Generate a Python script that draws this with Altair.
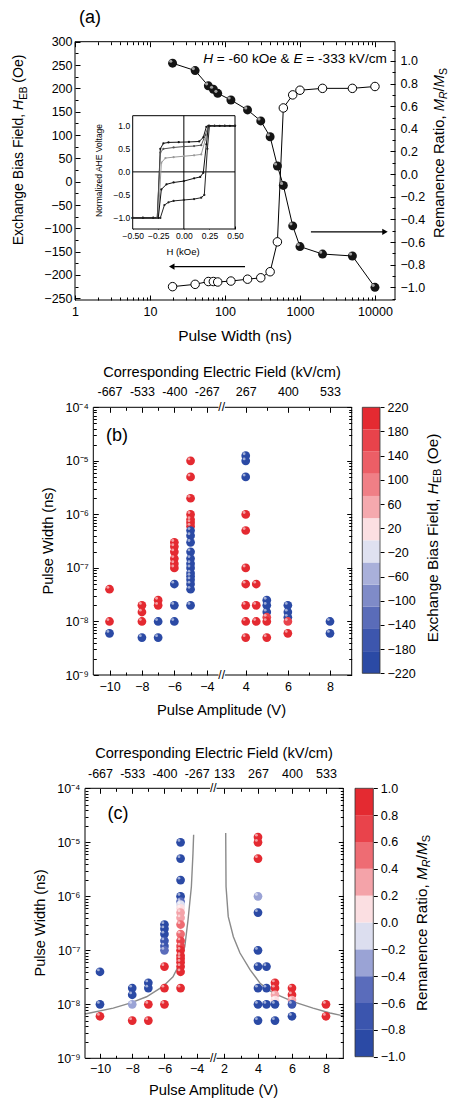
import altair as alt
import pandas as pd
import numpy as np

FONT = "Liberation Sans"
W, H = 449, 1101

# ---------------- panel (a) data ----------------
pulse_ns = [20, 40, 60, 70, 80, 120, 200, 300, 400, 500, 600, 800, 1000, 2000, 5000, 10000]
heb_open_oe = [-225, -220, -214, -214, -215, -213, -209, -206, -193, -129, 158, 186, 196, 200, 200, 204]
mr_filled = [0.98, 0.915, 0.78, 0.75, 0.714, 0.655, 0.567, 0.47, 0.33, 0.072, -0.10, -0.457,
             -0.64, -0.706, -0.723, -1.0]

# inset hysteresis loops: field H (kOe) and normalized AHE voltage
loop_names = ["A", "B", "C", "D", "E"]
loop_h = {
    "A": [-0.5, -0.4, -0.3, -0.26, -0.23, -0.2, -0.15, -0.05, 0.05, 0.15, 0.19, 0.22, 0.25, 0.35, 0.45, 0.5],
    "B": [-0.5, -0.4, -0.3, -0.26, -0.23, -0.2, -0.1, 0.0, 0.1, 0.17, 0.21, 0.24, 0.3, 0.4, 0.5],
    "C": [-0.5, -0.4, -0.3, -0.25, -0.22, -0.18, -0.1, 0.0, 0.1, 0.17, 0.21, 0.24, 0.3, 0.4, 0.5],
    "D": [-0.5, -0.4, -0.3, -0.25, -0.22, -0.17, -0.1, 0.0, 0.1, 0.16, 0.19, 0.22, 0.24, 0.3, 0.4, 0.5],
    "E": [-0.5, -0.4, -0.3, -0.23, -0.19, -0.15, -0.1, 0.0, 0.1, 0.17, 0.2, 0.23, 0.25, 0.3, 0.4, 0.5],
}
loop_v = {
    "A": [-1, -1, -1, -1, 0.5, 0.62, 0.64, 0.645, 0.65, 0.66, 0.75, 0.98, 1.0, 1.0, 1.0, 1.0],
    "B": [-1, -1, -1, -1, 0.42, 0.5, 0.53, 0.55, 0.56, 0.58, 0.8, 1.0, 1.0, 1.0, 1.0],
    "C": [-1, -1, -1, -1, 0.2, 0.3, 0.32, 0.34, 0.36, 0.38, 0.7, 1.0, 1.0, 1.0, 1.0],
    "D": [-1, -1, -1, -1, -0.38, -0.27, -0.23, -0.2, -0.14, -0.11, -0.02, 0.6, 1.0, 1.0, 1.0, 1.0],
    "E": [-1, -1, -1, -1, -0.72, -0.66, -0.63, -0.61, -0.59, -0.56, -0.5, 0.5, 1.0, 1.0, 1.0, 1.0],
}

# ---------------- panels (b), (c) data ----------------
amp_v = ([-10] * 3 + [-8] * 4 + [-7] * 4 + [-6] * 9 + [-5] * 20 + [4] * 10 + [4.5] * 3
         + [5] * 6 + [6] * 5 + [8] * 2)
width_s = [4e-8, 1e-8, 6e-9,
           2e-8, 1.5e-8, 1e-8, 5e-9,
           2.5e-8, 2e-8, 1e-8, 5e-9,
           3e-7, 2.5e-7, 2e-7, 1.5e-7, 1.2e-7, 1e-7, 5e-8, 2e-8, 1e-8,
           1e-5, 5e-6, 2e-6, 1e-6, 8e-7, 7e-7, 6e-7, 5e-7, 4e-7, 3e-7, 2e-7, 1.5e-7, 1.2e-7, 1e-7,
           8e-8, 7e-8, 6e-8, 5e-8, 4e-8, 2e-8,
           1.25e-5, 1e-5, 5e-6, 1e-6, 5e-7, 1e-7, 5e-8, 2e-8, 1e-8, 5e-9,
           5e-8, 2e-8, 1e-8,
           2.5e-8, 2e-8, 1.5e-8, 1.2e-8, 1e-8, 5e-9,
           2e-8, 1.5e-8, 1.2e-8, 1e-8, 6e-9,
           1e-8, 6e-9]
heb_b = [200, 200, -200,
         200, 200, 200, -200,
         200, 200, -200, -200,
         200, 200, 200, 200, 200, 200, -200, -200, -200,
         200, 200, 200, 200, 200, 200, 200, -200, -200, -200, -200, -200, -200, -200,
         -200, -200, -200, -200, -200, -200,
         -200, -200, -200, 200, 200, 200, 200, 200, 200, 200,
         200, 200, 200,
         -200, -200, -200, 150, 200, 200,
         -200, -200, -200, 150, 200,
         -200, -200]
mr_c = [-0.95, -0.95, 0.95,
        -0.9, -0.9, -0.35, 0.95,
        -0.9, -0.9, 0.95, 0.95,
        -0.9, -0.9, -0.85, -0.8, -0.75, -0.45, 0.95, 0.95, 0.95,
        -0.95, -0.95, -0.95, -0.9, -0.5, -0.15, 0.1, 0.3, 0.35, 0.45, 0.55, 0.65, 0.75, 0.8,
        0.85, 0.9, 0.9, 0.9, 0.95, 0.95,
        0.95, 0.95, 0.9, -0.25, -0.9, -0.95, -0.95, -0.95, -0.95, -0.95,
        -0.95, -0.95, -0.95,
        0.9, 0.85, 0.35, 0.1, -0.9, -0.95,
        0.9, 0.8, 0.3, -0.7, -0.95,
        0.95, 0.95]

# guide curves in (c)
curve_l_v = [-10.93, -9.18, -8.14, -7.11, -6.09, -5.47, -5.05, -4.74, -4.54, -4.33, -4.23, -4.19]
curve_l_w = [6.6e-9, 8.5e-9, 1.05e-8, 1.38e-8, 2.14e-8, 3.24e-8, 5.75e-8, 1.17e-7, 3.6e-7, 1.5e-6, 6.3e-6, 1.38e-5]
curve_r_v = [2.10, 2.12, 2.25, 2.55, 2.94, 3.53, 4.12, 4.88, 6.06, 7.24, 8.24, 8.82, 9.02]
curve_r_w = [1.48e-5, 1.5e-6, 4.2e-7, 1.78e-7, 8.9e-8, 4.4e-8, 2.45e-8, 1.62e-8, 1.12e-8, 8.5e-9, 6.9e-9, 6.3e-9, 6.2e-9]

# tick labels
xa_major = [1, 10, 100, 1000, 10000]
ya_major = list(range(-250, 301, 50))
yr_major = [round(-1 + 0.2 * i, 1) for i in range(11)]
inset_x_ticks = [-0.5, -0.25, 0.0, 0.25, 0.5]
inset_y_ticks = [-1.0, -0.5, 0.0, 0.5, 1.0]
pw_tick_vals = [1e-9, 1e-8, 1e-7, 1e-6, 1e-5, 1e-4]
pw_tick_labels = ["10\u207b\u2079", "10\u207b\u2078", "10\u207b\u2077", "10\u207b\u2076", "10\u207b\u2075", "10\u207b\u2074"]
xb_major = [-10, -8, -6, -4, 4, 6, 8]
xb_e_labels = ["-667", "-533", "-400", "-267", "267", "400", "533"]
xc_major = [-10, -8, -6, -4, 2, 4, 6, 8]
xc_e_labels = ["-667", "-533", "-400", "-267", "133", "267", "400", "533"]
cb_b_ticks = list(range(220, -221, -40))
cb_c_ticks = [round(1 - 0.2 * i, 1) for i in range(11)]

colors_b = ["#2b4aa5", "#3d56ad", "#5a6cb9", "#7f8bc8", "#a9b0da", "#dfe1f0",
            "#fbdfe2", "#f5a9ae", "#f07f86", "#ec5e66", "#e8434b", "#e42a31"]
colors_c = ["#2b4aa5", "#3b55ae", "#5a6cbb", "#9aa3d5", "#dcdeef",
            "#fbdfe2", "#f4a3a9", "#ee6c73", "#e9434b", "#e42a31"]

# ---------------- helpers ----------------
ARIAL = {' ': 278, '(': 333, ')': 333, ',': 278, '-': 333, '.': 278, '/': 278, '=': 584, '&': 667,
         'A': 667, 'B': 667, 'C': 722, 'D': 722, 'E': 667, 'F': 611, 'G': 778, 'H': 722, 'I': 278,
         'K': 667, 'L': 556, 'M': 833, 'N': 722, 'O': 778, 'P': 667, 'R': 722, 'S': 667, 'T': 611,
         'V': 667, 'W': 944, 'a': 556, 'b': 556, 'c': 500, 'd': 556, 'e': 556, 'f': 278, 'g': 556,
         'h': 556, 'i': 222, 'k': 500, 'l': 222, 'm': 833, 'n': 556, 'o': 556, 'p': 556, 'r': 333,
         's': 500, 't': 278, 'u': 556, 'v': 500, 'x': 500, 'z': 500}


def tw(s, size):
    return sum(ARIAL.get(ch, 556) for ch in s) * size / 1000.0


def rich(pieces, cx, cy, vertical=False):
    total = sum(tw(t, s) for t, s, _, _ in pieces)
    base = max(s for _, s, _, _ in pieces)
    out = []
    pos = cy + total / 2 if vertical else cx - total / 2
    for t, s, style, shift in pieces:
        lead = len(t) - len(t.lstrip(" "))
        adv = tw(" " * lead, s)
        body = t.strip(" ")
        df = pd.DataFrame({"t": [body]})
        if vertical:
            pos -= adv
            mk = alt.Chart(df).mark_text(angle=270, align="left", baseline="alphabetic", font=FONT,
                                         fontSize=s, fontStyle=style, color="black")
            out.append(mk.encode(text="t:N", x=alt.value(cx + 0.36 * base + shift), y=alt.value(pos)))
            pos -= tw(t, s) - adv
        else:
            pos += adv
            mk = alt.Chart(df).mark_text(align="left", baseline="alphabetic", font=FONT,
                                         fontSize=s, fontStyle=style, color="black")
            out.append(mk.encode(text="t:N", x=alt.value(pos), y=alt.value(cy + 0.36 * base + shift)))
            pos += tw(t, s) - adv
    return out


def S(domain, rng, typ="linear"):
    if typ == "log":
        return alt.Scale(type="log", domain=domain, range=rng, nice=False)
    return alt.Scale(type="linear", domain=domain, range=rng, nice=False, zero=False)


def off(orient, p):
    return {"left": -p, "top": -p, "right": p - W, "bottom": p - H}[orient]


def lab_axis(orient, p, values, pad, fmt=None, expr=None, size=12.5, tick=0):
    kw = dict(orient=orient, offset=off(orient, p), values=values, labels=True,
              ticks=tick > 0, tickSize=tick, tickColor="black", domain=False, grid=False,
              labelPadding=pad, labelFont=FONT, labelFontSize=size, labelColor="black",
              labelOverlap=False, labelFlush=False, title=None)
    if fmt:
        kw["format"] = fmt
    if expr:
        kw["labelExpr"] = expr
    return alt.Axis(**kw)


def tick_axis(orient, p, values, size):
    return alt.Axis(orient=orient, offset=off(orient, p), values=values, labels=False, ticks=True,
                    tickSize=size, tickColor="black", tickWidth=1, domain=False, grid=False, title=None)


def carrier(xs, ys, xdom, ydom, xax=None, yax=None):
    df = pd.DataFrame({"x": [xdom[0], xdom[-1]], "y": [ydom[0], ydom[-1]]})
    return alt.Chart(df).mark_point(opacity=0).encode(
        x=alt.X("x:Q", scale=xs, axis=xax), y=alt.Y("y:Q", scale=ys, axis=yax))


def frame(xs, ys, xdom, ydom, fill=None, stroke="black", sw=1):
    df = pd.DataFrame({"x0": [xdom[0]], "x1": [xdom[-1]], "y0": [ydom[0]], "y1": [ydom[-1]]})
    if fill:
        mk = alt.Chart(df).mark_rect(fill=fill, stroke=stroke, strokeWidth=sw)
    else:
        mk = alt.Chart(df).mark_rect(fillOpacity=0, stroke=stroke, strokeWidth=sw)
    return mk.encode(x=alt.X("x0:Q", scale=xs, axis=None), x2="x1:Q",
                     y=alt.Y("y0:Q", scale=ys, axis=None), y2="y1:Q")


pw_expr = ""
for v, l in zip(pw_tick_vals[:-1], pw_tick_labels[:-1]):
    pw_expr += "datum.value < %g ? '%s' : " % (v * 3, l)
pw_expr += "'%s'" % pw_tick_labels[-1]


def e_expr(vals, labs):
    s = ""
    for v, l in zip(vals, labs):
        s += "datum.value == %g ? '%s' : " % (v, l)
    return s + "''"


layers = []

# =============== panel (a) ===============
xa_dom = [1, 18500]
ya_dom = [-253.6, 300]
yr_dom = [-1.112, 1.17]
xa = S(xa_dom, [75, 395], "log")
ya_l = S(ya_dom, [300, 41.7])
ya_r = S(yr_dom, [300, 41.7])

layers.append(frame(xa, ya_l, xa_dom, ya_dom))
dfa = pd.DataFrame({"t": pulse_ns, "heb": heb_open_oe, "mr": mr_filled})
Xa = alt.X("t:Q", scale=xa, axis=None)
layers.append(alt.Chart(dfa).mark_line(color="black", strokeWidth=1).encode(
    x=Xa, y=alt.Y("heb:Q", scale=ya_l, axis=None)))
layers.append(alt.Chart(dfa).mark_line(color="black", strokeWidth=1).encode(
    x=Xa, y=alt.Y("mr:Q", scale=ya_r, axis=None)))
layers.append(alt.Chart(dfa).mark_point(shape="circle", filled=True, fill="white", stroke="black",
                                        strokeWidth=1, size=72, opacity=1).encode(
    x=Xa, y=alt.Y("heb:Q", scale=ya_l, axis=None)))
layers.append(alt.Chart(dfa).mark_circle(color="#151515", size=80, opacity=1).encode(
    x=Xa, y=alt.Y("mr:Q", scale=ya_r, axis=None)))
layers.append(alt.Chart(dfa).mark_circle(color="white", size=10, opacity=0.6, xOffset=-1.8, yOffset=-2).encode(
    x=Xa, y=alt.Y("mr:Q", scale=ya_r, axis=None)))

# arrows
arr_r = pd.DataFrame({"x0": [1400], "x1": [13000], "y": [-0.51], "hx": [13600]})
arr_l = pd.DataFrame({"x0": [185], "x1": [21], "y": [-182], "hx": [19.5]})
layers.append(alt.Chart(arr_r).mark_rule(color="black", strokeWidth=1.2).encode(
    x=alt.X("x0:Q", scale=xa, axis=None), x2="x1:Q", y=alt.Y("y:Q", scale=ya_r, axis=None)))
layers.append(alt.Chart(arr_r).mark_point(shape="triangle-right", filled=True, color="black", size=40, opacity=1).encode(
    x=alt.X("hx:Q", scale=xa, axis=None), y=alt.Y("y:Q", scale=ya_r, axis=None)))
layers.append(alt.Chart(arr_l).mark_rule(color="black", strokeWidth=1.2).encode(
    x=alt.X("x0:Q", scale=xa, axis=None), x2="x1:Q", y=alt.Y("y:Q", scale=ya_l, axis=None)))
layers.append(alt.Chart(arr_l).mark_point(shape="triangle-left", filled=True, color="black", size=40, opacity=1).encode(
    x=alt.X("hx:Q", scale=xa, axis=None), y=alt.Y("y:Q", scale=ya_l, axis=None)))

# axes (a)
xa_minor = [m * 10 ** k for k in range(0, 5) for m in range(2, 10) if m * 10 ** k < 18500]
ya_minor = list(range(-225, 300, 50))
yr_minor = [round(-1.1 + 0.2 * i, 1) for i in range(12)]
layers.append(carrier(xa, ya_l, xa_dom, ya_dom,
                      lab_axis("bottom", 300, xa_major, 5, fmt="d"),
                      lab_axis("left", 75, ya_major, 3, fmt="d")))
layers.append(carrier(xa, ya_r, xa_dom, yr_dom, None,
                      lab_axis("right", 395, yr_major, 5, fmt=".1f")))
layers.append(carrier(xa, ya_l, xa_dom, ya_dom, tick_axis("top", 300, xa_major, 5),
                      tick_axis("right", 75, ya_major, 5)))
layers.append(carrier(xa, ya_l, xa_dom, ya_dom, tick_axis("top", 300, xa_minor, 3),
                      tick_axis("right", 75, ya_minor, 3)))
layers.append(carrier(xa, ya_r, xa_dom, yr_dom, tick_axis("bottom", 41.7, xa_major, 5),
                      tick_axis("left", 395, yr_major, 5)))
layers.append(carrier(xa, ya_r, xa_dom, yr_dom, tick_axis("bottom", 41.7, xa_minor, 3),
                      tick_axis("left", 395, yr_minor, 3)))

# inset
xi_dom = [-0.5, 0.5]
yi_dom = [-1.24, 1.22]
xi = S(xi_dom, [132.7, 235])
yi = S(yi_dom, [229, 115.7])
layers.append(frame(xi, yi, xi_dom, yi_dom, fill="white"))
cross_v = pd.DataFrame({"x": [0.0], "y0": [yi_dom[0]], "y1": [yi_dom[1]]})
cross_h = pd.DataFrame({"y": [0.0], "x0": [xi_dom[0]], "x1": [xi_dom[1]]})
layers.append(alt.Chart(cross_v).mark_rule(color="black", strokeWidth=1).encode(
    x=alt.X("x:Q", scale=xi, axis=None), y=alt.Y("y0:Q", scale=yi, axis=None), y2="y1:Q"))
layers.append(alt.Chart(cross_h).mark_rule(color="black", strokeWidth=1).encode(
    y=alt.Y("y:Q", scale=yi, axis=None), x=alt.X("x0:Q", scale=xi, axis=None), x2="x1:Q"))
rows = []
for n in loop_names:
    for i, (h, v) in enumerate(zip(loop_h[n], loop_v[n])):
        rows.append({"loop": n, "order": i, "h": h, "v": v})
dfi = pd.DataFrame(rows)
layers.append(alt.Chart(dfi).mark_line(strokeWidth=1, point=alt.OverlayMarkDef(filled=True, size=5)).encode(
    x=alt.X("h:Q", scale=xi, axis=None), y=alt.Y("v:Q", scale=yi, axis=None),
    color=alt.Color("loop:N", scale=alt.Scale(domain=loop_names,
                                              range=["#111111", "#555555", "#9a9a9a", "#111111", "#222222"]),
                    legend=None),
    order="order:Q"))
layers.append(carrier(xi, yi, xi_dom, yi_dom,
                      lab_axis("bottom", 229, inset_x_ticks, 2, fmt=".2f", size=8.5),
                      lab_axis("left", 132.7, inset_y_ticks, 3, fmt=".1f", size=8.5)))
layers.append(carrier(xi, yi, xi_dom, yi_dom, tick_axis("top", 229, inset_x_ticks, 3),
                      tick_axis("right", 132.7, inset_y_ticks, 3)))

# texts (a)
layers += rich([("(a)", 18, "normal", 0)], 90, 17)
layers += rich([("H", 13.6, "italic", 0), (" = -60 kOe & ", 13.6, "normal", 0),
                ("E", 13.6, "italic", 0), (" = -333 kV/cm", 13.6, "normal", 0)], 295, 58)
layers += rich([("Exchange Bias Field, ", 14, "normal", 0), ("H", 14, "italic", 0),
                ("EB", 10, "normal", 3.5), (" (Oe)", 14, "normal", 0)], 18, 150, vertical=True)
layers += rich([("Remanence Ratio, ", 14.8, "normal", 0), ("M", 14.8, "italic", 0),
                ("R", 10.5, "italic", 3), ("/", 14.8, "normal", 0), ("M", 14.8, "italic", 0),
                ("S", 10.5, "normal", 3)], 438.5, 153, vertical=True)
layers += rich([("Pulse Width (ns)", 15.5, "normal", 0)], 235, 335)
layers += rich([("Normalized AHE Voltage", 8.5, "normal", 0)], 99, 170, vertical=True)
layers += rich([("H (kOe)", 9.5, "normal", 0)], 183, 252)

# =============== panels (b) and (c) ===============
dfp = pd.DataFrame({"amp": amp_v, "w": width_s, "heb": heb_b, "mr": mr_c})
pw_dom = [1e-9, 1e-4]
pw_minor = [m * 10.0 ** k for k in range(-9, -4) for m in range(2, 10)]


def scatter_panel(xs, xdom, ys, y_top, y_bot, x_left, x_right, x_break, cfield, cscale,
                  major, minor, elabels, bot_pad, top_pad, label, label_xy):
    out = [frame(xs, ys, xdom, pw_dom)]
    Xp = alt.X("amp:Q", scale=xs, axis=None)
    Yp = alt.Y("w:Q", scale=ys, axis=None)
    out.append(alt.Chart(dfp).mark_circle(size=76, opacity=1).encode(
        x=Xp, y=Yp, color=alt.Color(cfield + ":Q", scale=cscale, legend=None)))
    out.append(alt.Chart(dfp).mark_circle(color="white", size=8, opacity=0.55, xOffset=-1.6, yOffset=-1.9).encode(
        x=Xp, y=Yp))
    # axis break markers
    brk = pd.DataFrame({"amp": [x_break, x_break], "w": pw_dom})
    out.append(alt.Chart(brk).mark_point(shape="square", filled=True, color="white", size=40, opacity=1).encode(
        x=Xp, y=Yp))
    out.append(alt.Chart(brk).mark_text(text="//", font=FONT, fontSize=12, color="black").encode(
        x=Xp, y=Yp))
    out.append(carrier(xs, ys, xdom, pw_dom,
                       lab_axis("bottom", y_bot, major, bot_pad, fmt="d"),
                       lab_axis("left", x_left, pw_tick_vals, 5, expr=pw_expr)))
    out.append(carrier(xs, ys, xdom, pw_dom,
                       lab_axis("top", y_top, major, top_pad, expr=e_expr(major, elabels)), None))
    out.append(carrier(xs, ys, xdom, pw_dom, tick_axis("top", y_bot, major, 5),
                       tick_axis("right", x_left, pw_tick_vals, 5)))
    out.append(carrier(xs, ys, xdom, pw_dom, tick_axis("top", y_bot, minor, 3),
                       tick_axis("right", x_left, pw_minor, 3)))
    out.append(carrier(xs, ys, xdom, pw_dom, tick_axis("bottom", y_top, major, 5),
                       tick_axis("left", x_right, pw_tick_vals, 5)))
    out.append(carrier(xs, ys, xdom, pw_dom, tick_axis("bottom", y_top, minor, 3),
                       tick_axis("left", x_right, pw_minor, 3)))
    out += rich([(label, 18, "normal", 0)], label_xy[0], label_xy[1])
    return out


def colorbar(xr, yr, dom, colors, ticks, fmt, x_right):
    edges = np.linspace(dom[0], dom[1], len(colors) + 1)
    df = pd.DataFrame({"x0": [0] * len(colors), "x1": [1] * len(colors),
                       "lo": edges[:-1], "hi": edges[1:], "col": colors})
    cx = S([0, 1], xr)
    cy = S(dom, yr)
    out = [alt.Chart(df).mark_rect().encode(
        x=alt.X("x0:Q", scale=cx, axis=None), x2="x1:Q",
        y=alt.Y("lo:Q", scale=cy, axis=None), y2="hi:Q",
        color=alt.Color("col:N", scale=None))]
    out.append(frame(cx, cy, [0, 1], dom, stroke="#333333", sw=0.8))
    out.append(carrier(cx, cy, [0, 1], dom, None,
                       lab_axis("right", x_right, ticks, 3, fmt=fmt, size=12.5, tick=4)))
    return out


# (b)
xb_dom = [-11, 9.03]
xb = S([-11, -3.08, 2.86, 9.03], [93.3, 221.7, 221.7, 351.7])
yb = S(pw_dom, [675, 407.3], "log")
cs_b = alt.Scale(type="quantize", domain=[-220, 220], range=colors_b, nice=False)
layers += scatter_panel(xb, xb_dom, yb, 407.3, 675, 93.3, 351.7, 0, "heb", cs_b,
                        xb_major, [-9, -7, -5, 5, 7], xb_e_labels, 5, 9, "(b)", (117, 435))
layers += colorbar([362.3, 380], [673.3, 407.3], [-220, 220], colors_b, cb_b_ticks, "d", 380)
layers += rich([("Corresponding Electric Field (kV/cm)", 14.6, "normal", 0)], 222, 372)
layers += rich([("Pulse Width (ns)", 14.6, "normal", 0)], 48, 541, vertical=True)
layers += rich([("Pulse Amplitude (V)", 14.7, "normal", 0)], 222, 710)
layers += rich([("Exchange Bias Field, ", 15.3, "normal", 0), ("H", 15.3, "italic", 0),
                ("EB", 11, "normal", 3.5), (" (Oe)", 15.3, "normal", 0)], 432, 538, vertical=True)

# (c)
xc_dom = [-10.93, 9.02]
xc = S([-10.93, -2.97, 1.37, 9.02], [85, 213.3, 213.3, 343.3])
yc = S(pw_dom, [1058.3, 788.3], "log")
cs_c = alt.Scale(type="quantize", domain=[-1, 1], range=colors_c, nice=False)
curves = pd.DataFrame({"amp": curve_l_v + curve_r_v, "w": curve_l_w + curve_r_w,
                       "side": ["L"] * len(curve_l_v) + ["R"] * len(curve_r_v),
                       "order": list(range(len(curve_l_v))) + list(range(len(curve_r_v)))})
layers.append(alt.Chart(curves).mark_line(color="#8a8a8a", strokeWidth=1.4).encode(
    x=alt.X("amp:Q", scale=xc, axis=None), y=alt.Y("w:Q", scale=yc, axis=None),
    detail="side:N", order="order:Q"))
layers += scatter_panel(xc, xc_dom, yc, 788.3, 1058.3, 85, 343.3, 0, "mr", cs_c,
                        xc_major, [-9, -7, -5, 3, 5, 7], xc_e_labels, 4, 8, "(c)", (118, 813))
layers += colorbar([355, 373.3], [1056.7, 788.3], [-1, 1], colors_c, cb_c_ticks, ".1f", 373.3)
layers += rich([("Corresponding Electric Field (kV/cm)", 14.6, "normal", 0)], 214, 753)
layers += rich([("Pulse Width (ns)", 14.6, "normal", 0)], 40, 923, vertical=True)
layers += rich([("Pulse Amplitude (V)", 14.7, "normal", 0)], 214, 1090)
layers += rich([("Remanence Ratio, ", 15.3, "normal", 0), ("M", 15.3, "italic", 0),
                ("R", 11, "italic", 3.5), ("/", 15.3, "normal", 0), ("M", 15.3, "italic", 0),
                ("S", 11, "normal", 3.5)], 421, 923, vertical=True)

chart = alt.layer(*layers).resolve_scale(
    x="independent", y="independent", color="independent"
).properties(
    width=W, height=H, autosize=alt.AutoSizeParams(type="none"), padding=0
).configure_view(stroke=None)

chart.save("out.html", embed_options={"renderer": "svg", "actions": False})
